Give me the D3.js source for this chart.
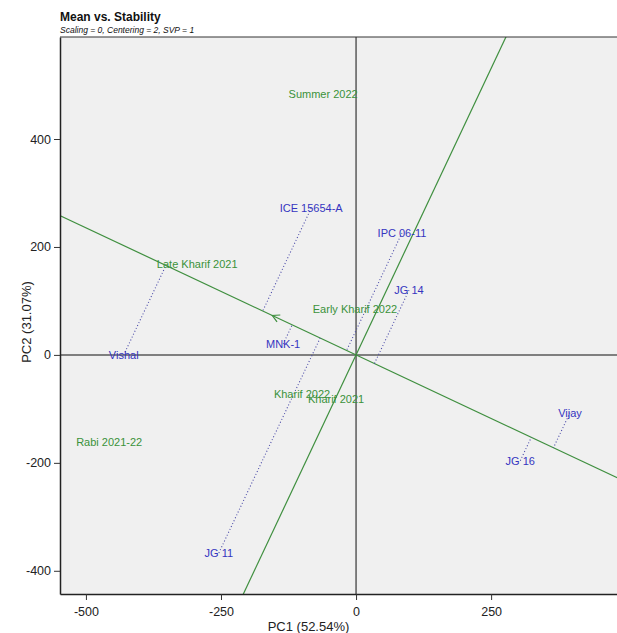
<!DOCTYPE html>
<html>
<head>
<meta charset="utf-8">
<script src="https://cdn.jsdelivr.net/npm/d3@7"></script>
<style>
  body { margin: 0; background: #fff; }
  text { font-family: "Liberation Sans", Arial, sans-serif; }
</style>
</head>
<body>
<div id="chart"></div>
<script>
const W = 617;
const H = 633;
const PLOT = { left: 60, top: 37, right: 617, bottom: 594 };

// genotypes (blue) - PC1, PC2 scores
const genotypes = ["Vishal", "ICE 15654-A", "IPC 06-11", "JG 14", "MNK-1", "Vijay", "JG 16", "JG 11"];
const genoPC1 = [-430, -83, 85, 98, -135, 396, 304, -254];
const genoPC2 = [0, 272, 226, 120, 20, -107, -196, -367];

// environments (green)
const environments = ["Summer 2022", "Late Kharif 2021", "Early Kharif 2022", "Kharif 2022", "Kharif 2021", "Rabi 2021-22"];
const envPC1 = [-61, -294, -2, -100, -37, -457];
const envPC2 = [483, 169, 85, -72, -81, -161];

// average environment (arrow on the AEA)
const avgEnv = [-155, 73];

const xTicks = [-500, -250, 0, 250];
const yTicks = [-400, -200, 0, 200, 400];
const xDomain = [-548, 483];
const yDomain = [589, -443];

const svg = d3.select("#chart")
    .append("svg")
    .attr("width", W)
    .attr("height", H);

const x = d3.scaleLinear().domain(xDomain).range([PLOT.left, PLOT.right]);
const y = d3.scaleLinear().domain(yDomain).range([PLOT.top, PLOT.bottom]);

svg.append("clipPath").attr("id", "clip")
    .append("rect")
    .attr("x", PLOT.left).attr("y", PLOT.top)
    .attr("width", PLOT.right - PLOT.left).attr("height", PLOT.bottom - PLOT.top);

svg.append("rect")
    .attr("x", PLOT.left).attr("y", PLOT.top)
    .attr("width", PLOT.right - PLOT.left).attr("height", PLOT.bottom - PLOT.top)
    .attr("fill", "#f0f0f0");

const plot = svg.append("g").attr("clip-path", "url(#clip)");

// zero lines
plot.append("line")
    .attr("x1", x(0)).attr("x2", x(0))
    .attr("y1", PLOT.top).attr("y2", PLOT.bottom)
    .attr("stroke", "#5a5a5a").attr("stroke-width", 1.5);
plot.append("line")
    .attr("x1", PLOT.left).attr("x2", PLOT.right)
    .attr("y1", y(0)).attr("y2", y(0))
    .attr("stroke", "#5a5a5a").attr("stroke-width", 1.5);

// AEA and its perpendicular through the origin
const dx = avgEnv[0], dy = avgEnv[1];
const big = 20;
const line = d3.line().x(d => x(d[0])).y(d => y(d[1]));
plot.append("path")
    .attr("d", line([[-big * dx, -big * dy], [big * dx, big * dy]]))
    .attr("stroke", "#3f8f3f").attr("stroke-width", 1.2).attr("fill", "none");
plot.append("path")
    .attr("d", line([[-big * dy, big * dx], [big * dy, -big * dx]]))
    .attr("stroke", "#3f8f3f").attr("stroke-width", 1.2).attr("fill", "none");

// arrow head at average environment
const ax = x(avgEnv[0]), ay = y(avgEnv[1]);
const ang = Math.atan2(y(avgEnv[1]) - y(0), x(avgEnv[0]) - x(0));
const hl = 8, ha = 0.5;
plot.append("path")
    .attr("d", `M${ax - hl * Math.cos(ang - ha)},${ay - hl * Math.sin(ang - ha)}L${ax},${ay}L${ax - hl * Math.cos(ang + ha)},${ay - hl * Math.sin(ang + ha)}`)
    .attr("stroke", "#3f8f3f").attr("stroke-width", 1.2).attr("fill", "none");

// projections of genotypes onto the AEA
const dd = dx * dx + dy * dy;
const geno = genotypes.map((g, i) => {
    const t = (genoPC1[i] * dx + genoPC2[i] * dy) / dd;
    return { name: g, pc1: genoPC1[i], pc2: genoPC2[i], fx: t * dx, fy: t * dy };
});

plot.selectAll(".proj")
    .data(geno)
    .enter().append("line")
    .attr("class", "proj")
    .attr("x1", d => x(d.pc1)).attr("y1", d => y(d.pc2))
    .attr("x2", d => x(d.fx)).attr("y2", d => y(d.fy))
    .attr("stroke", "#4a4aa8").attr("stroke-width", 1.1)
    .attr("stroke-dasharray", "1,2.2");

plot.selectAll(".geno")
    .data(geno)
    .enter().append("text")
    .attr("class", "geno")
    .attr("x", d => x(d.pc1)).attr("y", d => y(d.pc2))
    .attr("text-anchor", "middle").attr("dominant-baseline", "central")
    .style("font-size", "11px").attr("fill", "#3535c0")
    .text(d => d.name);

plot.selectAll(".env")
    .data(environments)
    .enter().append("text")
    .attr("class", "env")
    .attr("x", (d, i) => x(envPC1[i])).attr("y", (d, i) => y(envPC2[i]))
    .attr("text-anchor", "middle").attr("dominant-baseline", "central")
    .style("font-size", "11px").attr("fill", "#3a923a")
    .text(d => d);

// axes (plain hyphen for negatives, like the original)
const fmt = d => String(d);
const xAxis = svg.append("g")
    .attr("transform", `translate(0,${PLOT.bottom})`)
    .call(d3.axisBottom(x).tickValues(xTicks).tickFormat(fmt).tickSize(6).tickSizeOuter(0));
const yAxis = svg.append("g")
    .attr("transform", `translate(${PLOT.left},0)`)
    .call(d3.axisLeft(y).tickValues(yTicks).tickFormat(fmt).tickSize(6).tickSizeOuter(0));

[xAxis, yAxis].forEach(a => {
    a.select(".domain").attr("stroke", "#222").attr("stroke-width", 1.5);
    a.selectAll(".tick line").attr("stroke", "#333");
    a.selectAll(".tick text")
        .style("font-family", "'Liberation Sans', Arial, sans-serif")
        .style("font-size", "12.5px").attr("fill", "#222");
});
xAxis.selectAll(".tick text").attr("dy", "1.05em");

// top border
svg.append("line")
    .attr("x1", PLOT.left).attr("x2", PLOT.right)
    .attr("y1", PLOT.top).attr("y2", PLOT.top)
    .attr("stroke", "#333").attr("stroke-width", 1);

svg.append("text")
    .attr("x", (PLOT.left + PLOT.right) / 2 - 30).attr("y", 631)
    .attr("text-anchor", "middle")
    .style("font-size", "13px").attr("fill", "#222")
    .text("PC1 (52.54%)");

svg.append("text")
    .attr("transform", `translate(31,322) rotate(-90)`)
    .attr("text-anchor", "middle")
    .style("font-size", "13px").attr("fill", "#222")
    .text("PC2 (31.07%)");

svg.append("text")
    .attr("x", 60).attr("y", 21)
    .style("font-size", "12px").style("font-weight", "bold").attr("fill", "#111")
    .text("Mean vs. Stability");

svg.append("text")
    .attr("x", 60).attr("y", 33)
    .style("font-size", "8.5px").style("font-style", "italic").attr("fill", "#111")
    .text("Scaling = 0, Centering = 2, SVP = 1");
</script>
</body>
</html>
